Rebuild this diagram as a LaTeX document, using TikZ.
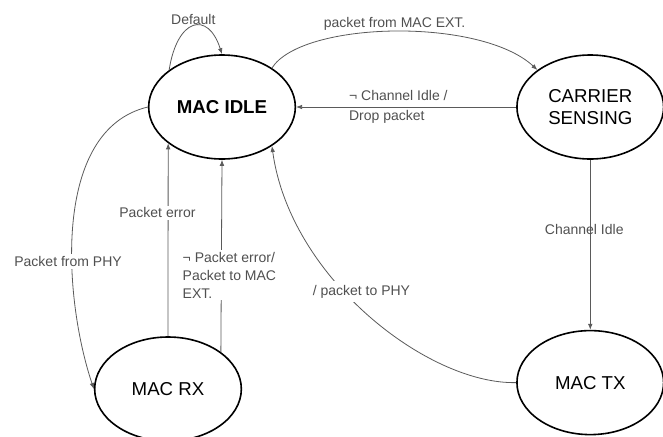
\documentclass[tikz,border=0pt]{standalone}
\usepackage{fontspec}
\setmainfont{Liberation Sans}
\usetikzlibrary{positioning,arrows.meta,shapes.geometric}
\definecolor{wire}{HTML}{5A5A5A}
\definecolor{note}{HTML}{505050}

\begin{document}
\begin{tikzpicture}[x=0.75pt,y=-0.75pt,>={Latex[length=4.5pt,width=3.5pt]},node distance=165pt,
state/.style={ellipse,draw=black,line width=1.2pt,minimum width=110pt,minimum height=78pt,inner sep=0pt,align=center,font=\fontsize{14}{17}\selectfont},
tr/.style={->,draw=wire,line width=0.6pt},
lbl/.style={text=note,font=\fontsize{10.5}{13.5}\selectfont,inner sep=1.5pt}]
\useasboundingbox (0,0) rectangle (663,436);
\node[state,font=\fontsize{14}{17}\selectfont\bfseries] (idle) at (222,107) {MAC IDLE};
\node[state,right=of idle] (sense) {CARRIER\\SENSING};
\node[state,below=127.5pt of sense] (tx) {MAC TX};
\node[state] (rx) at (168,389) {MAC RX};
% transitions
\draw[tr] (idle.145) .. controls +(8,-52) and +(-14,-44) .. (idle.north) node[lbl,pos=0.5,above=-1pt] {Default};
\draw[tr] (idle.38) .. controls +(30,-47) and +(-57,-53) .. (sense.145) node[lbl,pos=0.5,above=-1pt] {packet from MAC EXT.};
\draw[tr] (sense.west) -- (idle.east) node[lbl,pos=0.77,anchor=west,align=left,font=\fontsize{10.5}{15}\selectfont] {¬ Channel Idle /\\Drop packet};
\draw[tr] (sense.south) -- (tx.north) node[lbl,pos=0.41,xshift=-4.5pt] {Channel Idle};
\draw[tr] (tx.west) .. controls +(-88,2) and +(18,132) .. (idle.-38) node[lbl,pos=0.55,fill=white,anchor=west,xshift=-34pt,yshift=7pt,inner sep=3pt] {/ packet to PHY};
\draw[tr] (idle.west) .. controls +(-97,23) and +(-30,-89) .. (rx.west) node[lbl,pos=0.61,fill=white,xshift=-3pt] {Packet from PHY};
\draw[tr] (rx.north) -- (idle.214) node[lbl,pos=0.64,fill=white,xshift=-8pt] {Packet error};
\draw[tr] (rx.35) -- (idle.south) node[lbl,pos=0.40,fill=white,anchor=west,align=left,xshift=-30.75pt] {¬ Packet error/\\Packet to MAC\\EXT.};
\end{tikzpicture}
\end{document}
